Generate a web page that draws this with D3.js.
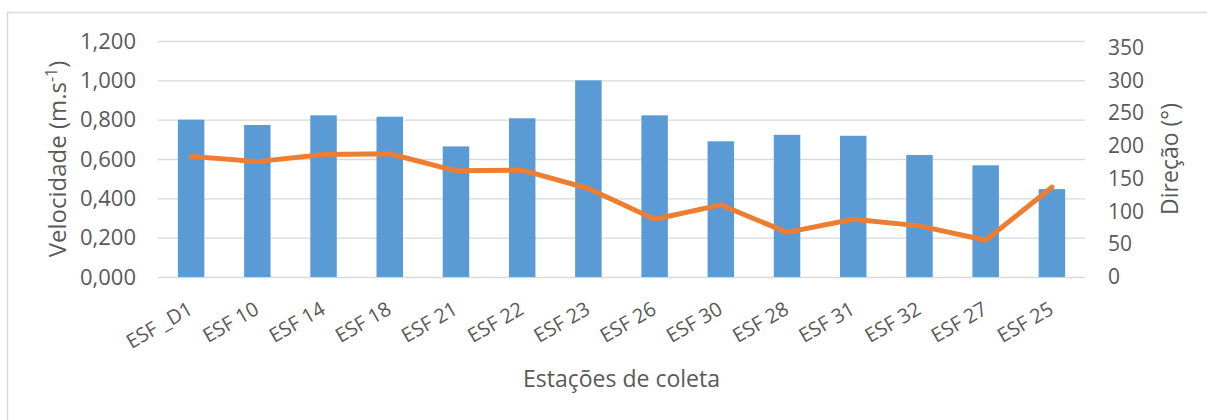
<!DOCTYPE html>
<html>
<head>
<meta charset="utf-8">
<script src="https://cdn.jsdelivr.net/npm/d3@7"></script>
<style>
  body { margin: 0; background: #fff; }
  text { font-family: "Open Sans", sans-serif; fill: #595959; }
</style>
</head>
<body>
<div id="chart"></div>
<script>
// estações e valores
const stations = ['ESF _D1', 'ESF 10', 'ESF 14', 'ESF 18', 'ESF 21', 'ESF 22', 'ESF 23',
  'ESF 26', 'ESF 30', 'ESF 28', 'ESF 31', 'ESF 32', 'ESF 27', 'ESF 25'];
const velocidade = [0.800, 0.773, 0.822, 0.815, 0.664, 0.807, 1.000,
  0.822, 0.690, 0.723, 0.718, 0.620, 0.568, 0.447];
const direcao = [184, 176, 187, 188, 162, 163, 135, 88, 110, 68, 88, 78, 56, 137];
const velTicks = [0, 0.2, 0.4, 0.6, 0.8, 1.0, 1.2];
const dirTicks = [0, 50, 100, 150, 200, 250, 300, 350];

const width = 1207;
const height = 420;
const margin = { top: 41, right: 122, bottom: 143, left: 158 };

const svg = d3.select('#chart')
  .append('svg')
  .attr('width', width)
  .attr('height', height);

// moldura do gráfico
svg.append('rect')
  .attr('x', 7.5)
  .attr('y', 12.5)
  .attr('width', width)
  .attr('height', height)
  .attr('fill', '#fff')
  .attr('stroke', '#d9d9d9')
  .attr('stroke-width', 1.5);

const x = d3.scaleBand()
  .domain(stations)
  .range([margin.left, width - margin.right])
  .paddingInner(0.6)
  .paddingOuter(0.3);

const yLeft = d3.scaleLinear()
  .domain([0, 1.2])
  .range([height - margin.bottom, margin.top]);

const yRight = d3.scaleLinear()
  .domain([0, 360])
  .range([height - margin.bottom, margin.top]);

const ptBR = d3.formatLocale({ decimal: ',', thousands: '.', grouping: [3], currency: ['R$', ''] });
const fmt = ptBR.format('.3f');

// linhas de grade
svg.append('g')
  .attr('transform', `translate(${margin.left},0)`)
  .call(d3.axisLeft(yLeft).tickValues(velTicks).tickSize(-(width - margin.right - margin.left)).tickFormat(''))
  .call(g => g.select('.domain').remove())
  .call(g => g.selectAll('line').attr('stroke', '#d9d9d9').attr('stroke-width', 1.3));

// eixo esquerdo
svg.append('g')
  .attr('transform', `translate(${margin.left},0)`)
  .call(d3.axisLeft(yLeft).tickValues(velTicks).tickSize(0).tickPadding(22).tickFormat(fmt))
  .call(g => g.select('.domain').remove())
  .call(g => g.selectAll('text').style('font-size', '22px').attr('fill', '#595959'));

// eixo direito
svg.append('g')
  .attr('transform', `translate(${width - margin.right},0)`)
  .call(d3.axisRight(yRight).tickValues(dirTicks).tickSize(0).tickPadding(23))
  .call(g => g.select('.domain').remove())
  .call(g => g.selectAll('text').style('font-size', '21px').attr('fill', '#595959'));

// barras
svg.append('g')
  .selectAll('rect')
  .data(velocidade)
  .enter()
  .append('rect')
  .attr('x', (d, i) => x(stations[i]))
  .attr('y', d => yLeft(d))
  .attr('width', x.bandwidth())
  .attr('height', d => yLeft(0) - yLeft(d))
  .attr('fill', '#5b9bd5');

// linha de direção
const line = d3.line()
  .x((d, i) => x(stations[i]) + x.bandwidth() / 2)
  .y(d => yRight(d));

svg.append('path')
  .datum(direcao)
  .attr('d', line)
  .attr('fill', 'none')
  .attr('stroke', '#ed7d31')
  .attr('stroke-width', 5)
  .attr('stroke-linejoin', 'round')
  .attr('stroke-linecap', 'round');

// rótulos das estações
svg.append('g')
  .selectAll('text')
  .data(stations)
  .enter()
  .append('text')
  .attr('transform', d => `translate(${x(d) + x.bandwidth() / 2 + 3},${yLeft(0) + 36}) rotate(-30)`)
  .attr('text-anchor', 'end')
  .style('font-size', '20px')
  .text(d => d);

// títulos dos eixos
const midY = (yLeft(0) + yLeft(1.2)) / 2;
const leftTitle = svg.append('text')
  .attr('transform', `translate(66,${midY}) rotate(-90)`)
  .attr('text-anchor', 'middle')
  .style('font-size', '24px');
leftTitle.append('tspan').text('Velocidade (m.s');
leftTitle.append('tspan').attr('dy', -9).style('font-size', '16px').text('-1');
leftTitle.append('tspan').attr('dy', 9).text(')');

svg.append('text')
  .attr('transform', `translate(1178,${midY}) rotate(-90)`)
  .attr('text-anchor', 'middle')
  .style('font-size', '23px')
  .text('Direção (°)');

svg.append('text')
  .attr('x', (margin.left + width - margin.right) / 2)
  .attr('y', 387)
  .attr('text-anchor', 'middle')
  .style('font-size', '23px')
  .text('Estações de coleta');
</script>
</body>
</html>
